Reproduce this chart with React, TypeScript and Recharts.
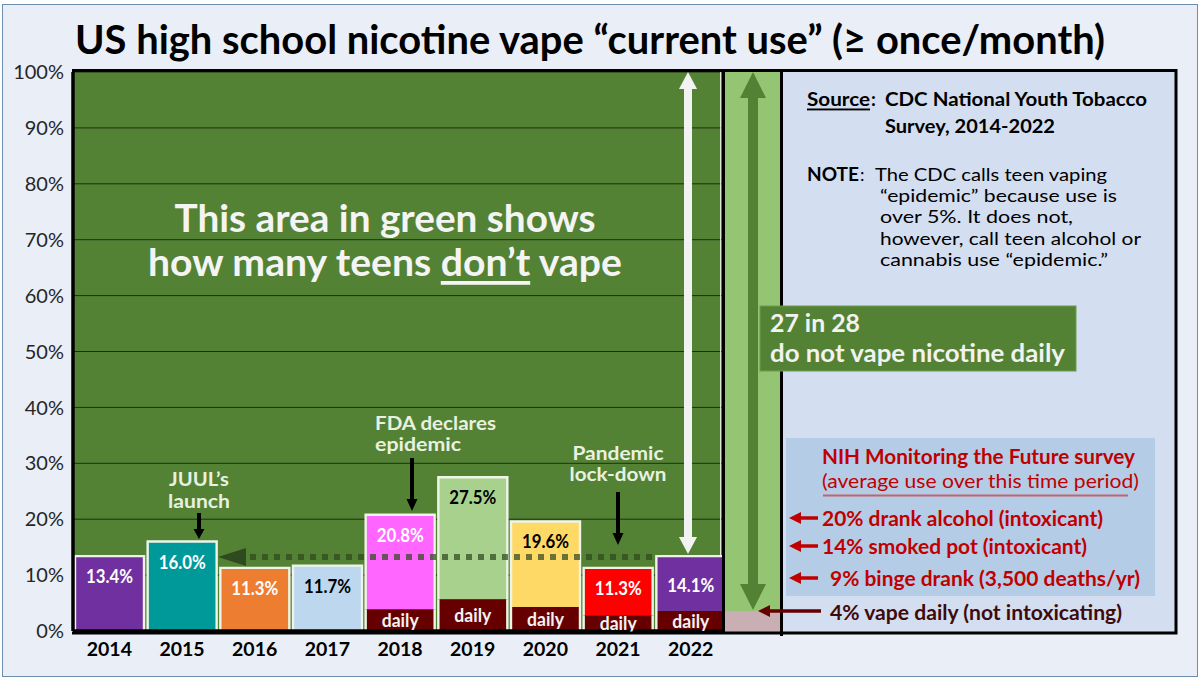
import React from "react";
import { ComposedChart, Bar, Cell, XAxis, YAxis, CartesianGrid, LabelList } from "recharts";

const years = ["2014", "2015", "2016", "2017", "2018", "2019", "2020", "2021", "2022"];
const barTops = [13.4, 16.0, 11.3, 11.7, 20.8, 27.5, 19.6, 11.3, 13.4];
const dailyUse = [0, 0, 0, 0, 3.9, 5.7, 4.3, 2.8, 3.6];
const pctLabels = ["13.4%", "16.0%", "11.3%", "11.7%", "20.8%", "27.5%", "19.6%", "11.3%", "14.1%"];
const barColors = ["#7030A0", "#009999", "#ED7D31", "#BDD7EE", "#FF66FF", "#A9D18E", "#FFD966", "#FF0000", "#7030A0"];
const labelInks = ["#fff", "#fff", "#fff", "#000", "#fff", "#000", "#000", "#fff", "#fff"];
const yTicks = [0, 10, 20, 30, 40, 50, 60, 70, 80, 90, 100];

const table = years.map((year, i) => ({
  year,
  daily: dailyUse[i],
  rest: barTops[i] - dailyUse[i],
  label: pctLabels[i],
  dailyLabel: dailyUse[i] > 0 ? "daily" : "",
}));

const FONT = "Lato, Carlito, sans-serif";
const EDGE = "#EEF5E8";

function TopSeg(props: any) {
  const { x, y, width, height, fill } = props;
  return (
    <g>
      <rect x={x} y={y} width={width} height={height} fill={fill} />
      <path d={`M${x} ${y + height}V${y}H${x + width}V${y + height}`} fill="none" stroke={EDGE} strokeWidth={2.4} />
    </g>
  );
}
function DailySeg(props: any) {
  const { x, y, width, height, fill } = props;
  if (!height) return null;
  return (
    <g>
      <rect x={x} y={y} width={width} height={height} fill={fill} />
      <path d={`M${x} ${y}V${y + height}M${x + width} ${y}V${y + height}`} fill="none" stroke={EDGE} strokeWidth={2.4} />
    </g>
  );
}
function PctLabel(props: any) {
  const { x, y, width, value, index } = props;
  const drop = index === 8 ? 29 : 20;
  return (
    <text x={x + width / 2} y={y + drop} textAnchor="middle" dominantBaseline="central" fontFamily={FONT} fontWeight={700} fontSize={18} fill={labelInks[index]} textLength={47} lengthAdjust="spacingAndGlyphs">
      {value}
    </text>
  );
}
function DailyLabel(props: any) {
  const { x, y, width, height, value } = props;
  if (!value) return null;
  return (
    <text x={x + width / 2} y={y + height / 2} textAnchor="middle" dominantBaseline="central" fontFamily={FONT} fontWeight={700} fontSize={18} fill="#F2F2F2" textLength={37} lengthAdjust="spacingAndGlyphs">
      {value}
    </text>
  );
}

function T({ x, y, w, size, weight = 700, fill = "#000", anchor = "start", deco, children }: any) {
  return (
    <text x={x} y={y} fontFamily={FONT} fontSize={size} fontWeight={weight} fill={fill} textAnchor={anchor}
      dominantBaseline="central" textLength={w} lengthAdjust="spacingAndGlyphs" textDecoration={deco}>
      {children}
    </text>
  );
}
function VArrow({ x, y1, y2, shaft, head, len, fill }: any) {
  return (
    <g fill={fill}>
      <rect x={x - shaft / 2} y={y1} width={shaft} height={y2 - y1 - len} />
      <polygon points={`${x - head / 2},${y2 - len} ${x + head / 2},${y2 - len} ${x},${y2}`} />
    </g>
  );
}
function LArrow({ x1, x2, y, fill, t = 3.5 }: any) {
  return (
    <g fill={fill}>
      <rect x={x1 + 10} y={y - t / 2} width={x2 - x1 - 10} height={t} />
      <polygon points={`${x1},${y} ${x1 + 12},${y - 6} ${x1 + 12},${y + 6}`} />
    </g>
  );
}

export default function App() {
  return (
    <div style={{ position: "absolute", left: 0, top: 0, width: 1200, height: 679, background: "#fff", overflow: "hidden" }}>
      <div style={{ position: "absolute", left: 2, top: 4, width: 1194, height: 671, background: "#E9EEF7", border: "1.5px solid #6C8EAD" }} />
      <div style={{ position: "absolute", left: 0, top: 0 }}>
        <ComposedChart width={1200} height={679} data={table} margin={{ top: 72, right: 473, bottom: 0, left: 0 }} barCategoryGap={2} barGap={0}>
          <CartesianGrid horizontal vertical={false} fill="#548235" stroke="#1C3010" strokeWidth={1} horizontalValues={yTicks} />
          <XAxis dataKey="year" height={48} interval={0} tickLine={false} tickMargin={5} axisLine={{ stroke: "#000", strokeWidth: 3.5 }}
            tick={{ fontFamily: FONT, fontWeight: 700, fontSize: 19.5, fill: "#000" }} />
          <YAxis type="number" domain={[0, 100]} ticks={yTicks} width={73} tickLine={false} tickMargin={3} tickFormatter={(v: number) => `${v}%`}
            axisLine={{ stroke: "#000", strokeWidth: 3.5 }} tick={{ fontFamily: FONT, fontSize: 20, fill: "#262626" }} />
          <Bar dataKey="daily" stackId="use" fill="#660000" shape={DailySeg} isAnimationActive={false}>
            <LabelList dataKey="dailyLabel" content={DailyLabel} />
          </Bar>
          <Bar dataKey="rest" stackId="use" shape={TopSeg} isAnimationActive={false}>
            {years.map((y, i) => <Cell key={y} fill={barColors[i]} />)}
            <LabelList dataKey="label" content={PctLabel} />
          </Bar>
        </ComposedChart>
      </div>
      <svg width={1200} height={679} style={{ position: "absolute", left: 0, top: 0 }}>
        <T x={75} y={39} w={1030} size={40}>US high school nicotine vape “current use” (≥ once/month)</T>

        {/* right-hand column and panel */}
        <rect x={724} y={71} width={57} height={540} fill="#93C572" />
        <rect x={724} y={611} width={57} height={21} fill="#C9AEB3" />
        <rect x={781} y={71} width={395} height={562} fill="#D3DEF1" />
        <rect x={786} y={438} width={369} height={158} fill="#B4CCE6" />
        <path d="M72 70.5H1176V633H72" fill="none" stroke="#000" strokeWidth={3} />
        <path d="M723.5 70V634M781.5 70V636" fill="none" stroke="#000" strokeWidth={3} />
        <path d="M720.5 72V555" fill="none" stroke="#DDE8D2" strokeWidth={1} />

        {/* dotted trend */}
        <path d="M250 557H652" stroke="#2F4A1E" strokeOpacity={0.72} strokeWidth={6} strokeDasharray="6 6" fill="none" />
        <polygon points="218,557 246,548 246,566" fill="#2F4A1E" />

        {/* white and green arrows */}
        <g fill="#F2F2F2">
          <rect x={684} y={88} width={8} height={449} />
          <polygon points="688,72 679,89 697,89" />
          <polygon points="688,554 679,537 697,537" />
        </g>
        <g fill="#548235">
          <rect x={748} y={98} width={10} height={486} />
          <polygon points="753,72 740,98 766,98" />
          <polygon points="753,610 740,584 766,584" />
        </g>

        <T x={385} y={217} w={421} size={38} fill="#F4F4F4" anchor="middle">This area in green shows</T>
        <text x={385} y={261} fontFamily={FONT} fontSize={38} fontWeight={700} fill="#F4F4F4" textAnchor="middle" dominantBaseline="central" textLength={474} lengthAdjust="spacingAndGlyphs">
          how many teens <tspan textDecoration="underline">don’t</tspan> vape
        </text>

        <T x={375} y={423} w={121} size={18.5} fill="#E8F1E0">FDA declares</T>
        <T x={375} y={444} w={86} size={18.5} fill="#E8F1E0">epidemic</T>
        <VArrow x={412} y1={458} y2={511} shaft={4} head={11} len={12} fill="#000" />
        <T x={199} y={479} w={60} size={18.5} fill="#E8F1E0" anchor="middle">JUUL’s</T>
        <T x={199} y={501} w={62} size={18.5} fill="#E8F1E0" anchor="middle">launch</T>
        <VArrow x={199} y1={513} y2={539} shaft={4} head={11} len={10} fill="#000" />
        <T x={618} y={453} w={91} size={18.5} fill="#E8F1E0" anchor="middle">Pandemic</T>
        <T x={618} y={474} w={97} size={18.5} fill="#E8F1E0" anchor="middle">lock-down</T>
        <VArrow x={618} y1={492} y2={545} shaft={4} head={11} len={12} fill="#000" />

        {/* 27 in 28 */}
        <rect x={760} y={306} width={316} height={65} fill="#548235" stroke="#6E9A4C" strokeWidth={1} />
        <T x={770} y={322} w={90} size={25} fill="#F2F2F2">27 in 28</T>
        <T x={770} y={352} w={295} size={25} fill="#F2F2F2">do not vape nicotine daily</T>

        {/* notes */}
        <T x={807} y={98} w={63} size={19} deco="underline">Source</T>
        <T x={871} y={98} size={19}>:</T>
        <T x={885} y={98} w={262} size={19}>CDC National Youth Tobacco</T>
        <T x={885} y={125} w={170} size={19}>Survey, 2014-2022</T>
        <T x={807} y={174} w={52} size={18}>NOTE</T>
        <T x={860} y={174} size={18} weight={400}>:</T>
        <T x={875} y={174} w={232} size={18} weight={400}>The CDC calls teen vaping</T>
        <T x={880} y={195} w={237} size={18} weight={400}>“epidemic” because use is</T>
        <T x={880} y={216} w={193} size={18} weight={400}>over 5%.  It does not,</T>
        <T x={880} y={238} w={261} size={18} weight={400}>however, call teen alcohol or</T>
        <T x={880} y={259} w={228} size={18} weight={400}>cannabis use “epidemic.”</T>

        {/* NIH */}
        <T x={822} y={456} w={313} size={20} fill="#C00000">NIH Monitoring the Future survey</T>
        <T x={822} y={480} w={317} size={20} weight={400} fill="#C00000">(average use over this time period)</T>
        <path d="M823 495.5H1128" stroke="#C4636F" strokeWidth={2} />
        <LArrow x1={789} x2={818} y={518} fill="#C00000" />
        <T x={822} y={518} w={281} size={20} fill="#C00000">20% drank alcohol (intoxicant)</T>
        <LArrow x1={789} x2={818} y={546} fill="#C00000" />
        <T x={822} y={546} w={265} size={20} fill="#C00000">14% smoked pot (intoxicant)</T>
        <LArrow x1={789} x2={818} y={578} fill="#C00000" />
        <T x={830} y={578} w={310} size={20} fill="#C00000">9% binge drank (3,500 deaths/yr)</T>
        <LArrow x1={758} x2={821} y={611} fill="#660000" />
        <T x={830} y={612} w={292} size={20} fill="#3F0A0A">4% vape daily (not intoxicating)</T>
      </svg>
    </div>
  );
}
